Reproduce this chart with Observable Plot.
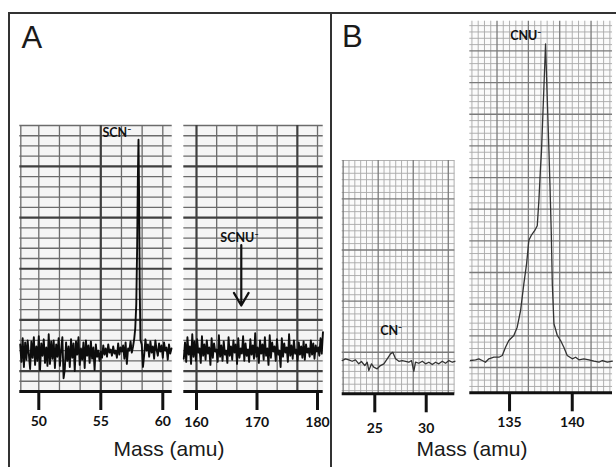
<!DOCTYPE html>
<html><head><meta charset="utf-8">
<script src="https://cdn.jsdelivr.net/npm/d3@7"></script>
<script src="https://cdn.jsdelivr.net/npm/@observablehq/plot@0.6"></script>
<style>
body{margin:0;background:#fff;}
#c{position:relative;width:616px;height:467px;overflow:hidden;background:#fff;}
.b{position:absolute;border-color:#333;border-style:solid;border-width:0;}
</style></head><body><div id="c"></div><script>
// ---------------- data ----------------
// Panel A, left spectrum (SCN-), sampled every 0.1 amu
const scnStep = 0.1;
const scnLeftStart = 48.5;
const scnLeftInt = [4.6,2.9,5.2,2.4,4.8,3.1,5.0,3.6,2.2,4.9,3.3,5.3,2.6,4.4,3.0,5.4,2.1,4.7,3.5,5.1,
  2.8,4.3,2.5,5.6,2.7,4.9,3.2,5.0,2.3,4.6,3.4,5.2,2.5,4.1,5.3,1.3,2.2,4.8,3.0,4.4,
  2.4,5.1,3.3,4.7,2.0,4.9,3.6,5.3,2.6,4.2,3.1,4.8,2.3,5.0,3.5,4.5,2.8,4.9,3.2,4.3,
  2.1,4.6,3.4,4.0,3.0];
const scnMidStart = 55.0;
const scnMidInt = [3.9,3.3,4.5,3.6,4.2,3.4,4.6,3.8,4.1,3.5,4.4,3.7,4.0,3.3,4.7,3.6,4.3,3.9,4.5,3.2,
  4.8,2.7,4.2,4.0,4.9,3.8,4.4];
const scnPeakMass = [57.7,57.78,57.86,57.93,57.99,58.04,58.09,58.14,58.2,58.3,58.4];
const scnPeakInt  = [5.2,6.2,8.5,14,21,24.6,19,10,5.0,4.6,2.4];
const scnRightStart = 58.5;
const scnRightInt = [3.6,5.1,4.0,4.6,3.4,4.9,3.8,4.4,3.2,5.0,4.1,3.5,4.7,3.9,4.5,3.3,4.8,4.0,4.3,3.1,4.6,3.7,4.2];

// Panel A, right spectrum (SCNU- region), sampled every 0.2 amu
const scnuStart = 157.9, scnuStep = 0.2;
const scnuInt = [3.2,4.8,2.9,5.3,3.6,4.4,2.7,5.6,3.4,4.9,
  3.0,5.1,3.8,4.2,2.8,5.4,3.5,4.6,3.1,5.0,
  3.7,4.3,2.6,5.2,3.3,4.7,3.9,4.1,2.9,5.5,
  3.4,4.5,3.0,4.9,3.6,4.0,2.8,5.3,3.5,4.4,
  3.1,5.0,3.8,4.6,2.7,5.2,3.3,4.2,3.7,5.4,
  3.0,4.7,3.5,4.1,2.9,5.1,3.6,4.5,3.2,5.7,
  3.4,4.3,2.8,5.0,3.7,4.6,3.1,5.3,3.5,4.2,
  2.6,5.5,3.3,4.8,3.9,4.4,3.0,5.1,3.6,4.0,
  2.4,5.2,3.4,4.7,3.8,4.3,2.9,5.6,3.5,4.5,
  3.2,5.0,3.7,4.1,3.0,4.8,3.6,4.4,3.3,4.9,
  3.1,4.6,3.8,4.2,3.4,5.0,3.6,4.7,3.2,4.5,
  3.9,4.3,3.5,5.2,3.7,5.8];

// Panel B, left spectrum (CN-)
const cnMass = [21.83,22.15,22.47,22.80,23.12,23.44,23.70,24.03,24.26,24.42,24.68,24.90,25.23,25.55,25.88,
  26.21,26.53,26.75,27.02,27.34,27.67,27.99,28.31,28.57,28.80,28.96,29.28,29.62,29.94,30.26,
  30.59,30.91,31.23,31.56,31.88,32.21,32.54,32.79];
const cnInt = [5.2,5.47,5.31,5.09,5.31,4.69,5.05,4.42,4.94,3.64,4.69,4.16,3.91,4.42,4.69,
  5.47,6.25,6.5,5.47,5.09,5.2,5.09,4.94,5.2,3.53,4.94,4.78,5.09,4.69,4.94,
  4.58,4.94,4.69,5.09,4.78,5.2,4.94,5.09];

// Panel B, right spectrum (CNU-)
const cnuMass = [131.89,132.29,132.55,132.82,133.08,133.35,133.75,134.15,134.42,134.68,134.94,135.34,135.61,135.88,
  136.14,136.36,136.54,136.73,137.0,137.21,137.34,137.47,137.55,137.87,138.14,138.22,138.33,138.41,138.54,
  138.81,139.07,139.33,139.60,140.0,140.27,140.53,140.93,141.33,141.73,142.13,142.40,142.80,143.20];
const cnuInt = [5.10,5.21,5.37,5.10,4.83,5.37,5.62,5.62,5.89,7.20,8.26,9.05,10.36,13.0,
  17.2,20.4,24.1,24.85,25.6,26.4,30.4,35.6,38.3,55.1,38.3,33.0,25.1,17.2,10.9,
  9.05,8.26,7.20,5.89,5.37,5.62,5.21,5.37,5.21,4.99,4.83,5.10,4.83,4.99];

// tick labels
const ticksA1 = [50, 55, 60];
const ticksA2 = [160, 170, 180];
const ticksB1 = [25, 30];
const ticksB2 = [135, 140];

// annotations
const labelsA1 = [{mass: 56.3, int: 25.3, text: "SCN⁻"}];
const labelsA2 = [{mass: 167.1, int: 15.05, text: "SCNU⁻"}];
const labelsB1 = [{mass: 26.6, int: 9.9, text: "CN⁻"}];
const labelsB2 = [{mass: 136.3, int: 56.4, text: "CNU⁻"}];
const arrowsA2 = [{mass: 167.4, from: 14.3, to: 8.4}];

// ---------------- build ----------------
const seq = (start, step, vals) => vals.map((v, i) => ({mass: +(start + i * step).toFixed(3), int: v}));
const zip = (ms, is) => ms.map((m, i) => ({mass: m, int: is[i]}));

const scnTrace = [
  ...seq(scnLeftStart, scnStep, scnLeftInt),
  ...seq(scnMidStart, scnStep, scnMidInt),
  ...zip(scnPeakMass, scnPeakInt),
  ...seq(scnRightStart, scnStep, scnRightInt)
];
const scnuTrace = seq(scnuStart, scnuStep, scnuInt);
const cnTrace = zip(cnMass, cnInt);
const cnuTrace = zip(cnuMass, cnuInt);

const W = 616, H = 467;
const root = document.getElementById("c");
const boldFont = "Lato, 'Open Sans', sans-serif";

function panel(o) {
  const g = o.grid;
  const marks = [
    Plot.frame({fill: g.paper, stroke: null}),
    Plot.ruleX(g.xFine, {stroke: g.fine, strokeWidth: g.fineW}),
    Plot.ruleY(g.yFine, {stroke: g.fine, strokeWidth: g.fineW}),
    Plot.ruleX(g.xThick, {stroke: g.thick, strokeWidth: g.thickW}),
    Plot.ruleY(g.yThick, {stroke: g.thick, strokeWidth: g.thickW}),
    Plot.line(o.trace, {x: "mass", y: "int", stroke: o.lineColor, strokeWidth: o.lineW, strokeLinejoin: "round"}),
    Plot.text(o.labels, {x: "mass", y: "int", text: "text", fontSize: 12.5, fontWeight: "bold", fontFamily: boldFont, fill: "#111"}),
  ];
  if (o.arrows) marks.push(Plot.arrow(o.arrows, {x1: "mass", x2: "mass", y1: "from", y2: "to", stroke: "#111", strokeWidth: 2.2, headLength: 10}));
  marks.push(Plot.ruleY([o.yDomain[0]], {stroke: "#111", strokeWidth: 3}));
  marks.push(Plot.axisX({ticks: o.ticks, tickSize: 19, tickPadding: o.pad, strokeWidth: 3, fontSize: 14, fontWeight: "bold", fontFamily: boldFont, label: null, tickFormat: d => String(d)}));
  const svg = Plot.plot({
    width: W, height: H,
    marginLeft: o.left, marginRight: W - o.right, marginTop: o.top, marginBottom: H - o.bottom,
    x: {domain: o.xDomain, label: null},
    y: {domain: o.yDomain, axis: null, label: null},
    style: {background: "transparent", position: "absolute", left: "0px", top: "0px", color: "#111", maxWidth: "none", overflow: "visible"},
    marks
  });
  root.appendChild(svg);
}

function split(values, isThick) {
  return {fine: values.filter((d, i) => !isThick(d, i)), thick: values.filter((d, i) => isThick(d, i))};
}

// Panel A grids (coarse chart paper)
const aY = split(d3.range(1, 27), d => d % 5 === 2);
const a1X = split([48.55, ...d3.range(0, 7).map(k => 50 + k * 5 / 3)], (d, i) => i === 4);
const a2X = split(d3.range(0, 7).map(k => 160 + k * 10 / 3), (d, i) => i === 0 || i === 5);
const gridA = (x) => ({paper: "#f5f5f5", fine: "#6b6b6b", fineW: 1.3, thick: "#3f3f3f", thickW: 2.2,
  xFine: x.fine, xThick: x.thick, yFine: aY.fine, yThick: aY.thick});

panel({left: 19.3, right: 171.7, top: 125, bottom: 391, xDomain: [48.468, 60.758], yDomain: [0, 26],
  grid: gridA(a1X), trace: scnTrace, lineColor: "#0d0d0d", lineW: 1.9, labels: labelsA1, ticks: ticksA1, pad: 6});
panel({left: 183.3, right: 322.7, top: 125, bottom: 391, xDomain: [157.9, 180.94], yDomain: [0, 26],
  grid: gridA(a2X), trace: scnuTrace, lineColor: "#0d0d0d", lineW: 1.9, labels: labelsA2, arrows: arrowsA2, ticks: ticksA2, pad: 7});

// Panel B grids (fine chart paper)
const b1X = split(d3.range(-6, 14).map(k => 25.33 + k * 0.568), (d, i) => (i - 6) % 6 === 0);
const b1Y = split(d3.range(0, 37).map(k => 0.5 + k), (d, i) => i >= 6 && (i - 6) % 8 === 0);
const b2X = split(d3.range(0, 23).map(k => 132 + k * 0.5), (d, i) => i % 5 === 4);
const b2Y = split(d3.range(1, 59), (d) => d % 5 === 4);
const gridB = (x, y) => ({paper: "#fbfbfb", fine: "#a8a8a8", fineW: 0.9, thick: "#7a7a7a", thickW: 1.3,
  xFine: x.fine, xThick: x.thick, yFine: y.fine, yThick: y.thick});

panel({left: 341.7, right: 454.3, top: 160, bottom: 393.3, xDomain: [21.83, 32.78], yDomain: [0, 36.5],
  grid: gridB(b1X, b1Y), trace: cnTrace, lineColor: "#333", lineW: 1.3, labels: labelsB1, ticks: ticksB1, pad: 10});
panel({left: 469.3, right: 612, top: 20.7, bottom: 392.3, xDomain: [131.83, 143.21], yDomain: [0, 58.7],
  grid: gridB(b2X, b2Y), trace: cnuTrace, lineColor: "#333", lineW: 1.3, labels: labelsB2, ticks: ticksB2, pad: 5});

// figure frame and panel letters
[["left:9px;top:12px;width:607px;border-top-width:2px"],
 ["left:8px;top:12px;height:455px;border-left-width:2px"],
 ["left:330px;top:12px;height:455px;border-left-width:2px"]].forEach(([s]) => {
  const d = document.createElement("div"); d.className = "b"; d.style.cssText = s; root.appendChild(d);
});

const ns = "http://www.w3.org/2000/svg";
const over = document.createElementNS(ns, "svg");
over.setAttribute("width", W); over.setAttribute("height", H);
over.style.cssText = "position:absolute;left:0;top:0;";
const texts = [
  {x: 21.5, y: 47.5, t: "A", size: 31, anchor: "start"},
  {x: 342, y: 47, t: "B", size: 31, anchor: "start"},
  {x: 169, y: 456, t: "Mass (amu)", size: 21, anchor: "middle"},
  {x: 472, y: 456, t: "Mass (amu)", size: 21, anchor: "middle"}
];
texts.forEach(d => {
  const e = document.createElementNS(ns, "text");
  e.setAttribute("x", d.x); e.setAttribute("y", d.y);
  e.setAttribute("font-family", "'Liberation Sans', Arial, sans-serif");
  e.setAttribute("font-size", d.size); e.setAttribute("fill", "#1a1a1a");
  e.setAttribute("text-anchor", d.anchor);
  e.textContent = d.t; over.appendChild(e);
});
root.appendChild(over);
</script></body></html>
